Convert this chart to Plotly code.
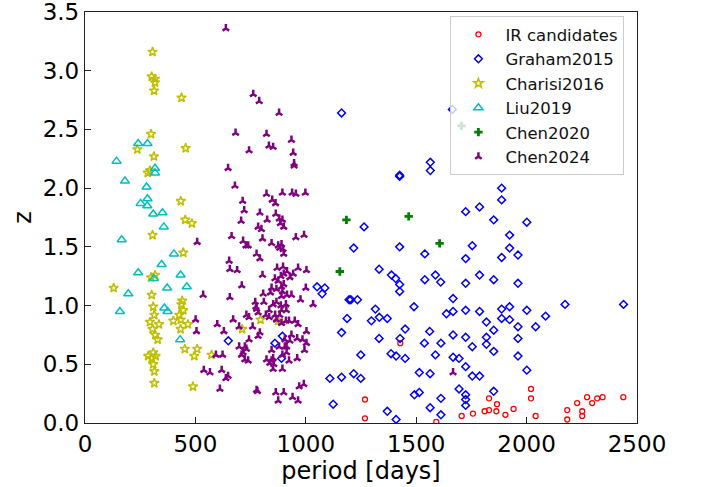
import plotly.graph_objects as go

# ---------------- data ----------------
ir_period = [1428, 1268, 1268, 1591, 1706, 1757, 1810, 1830, 1830, 1866, 1863, 1904, 1941,
             2020, 2020, 2041, 2184, 2184, 2229, 2252, 2252, 2274, 2297, 2320, 2344, 2438]
ir_z = [0.68, 0.20, 0.04, 0.01, 0.06, 0.08, 0.10, 0.11, 0.21, 0.16, 0.10, 0.07, 0.12,
        0.29, 0.21, 0.06, 0.11, 0.03, 0.17, 0.10, 0.06, 0.22, 0.17, 0.21, 0.22, 0.22]

graham_period = [649, 894, 860, 890, 1162, 1051, 1086, 1074, 1196, 1187, 1162, 1109, 1162, 1124,
                 1564, 1564, 1425, 1425, 1724, 1264, 1217, 1425, 1539, 1724, 1332, 1388, 1407, 1425,
                 1539, 1587, 1611, 1724, 1425, 1204, 1234, 1667, 1490, 1637, 1667, 1724, 1315, 1297,
                 1333, 1369, 1450, 1332, 1427, 1561, 1537, 1612, 1667, 1724, 1249, 1386, 1409, 1450,
                 1587, 1667, 1694, 1724, 1514, 1563, 1217, 1249, 1694, 1724, 1724, 1724, 1492, 1514,
                 1612, 1563, 1369, 1409, 1612,
                 1887, 1887, 1787, 1851, 2001, 1923, 1754, 1923, 1961, 1887, 1787, 1851, 1961, 2174,
                 2439, 1787, 1887, 1923, 2001, 2086, 1818, 1887, 1923, 1961, 2041, 1851, 1818, 1818,
                 1961, 1754, 1851, 1961, 2001, 1754, 1787, 1851, 1664]
graham_z = [0.70, 0.74, 0.68, 0.55, 2.64, 1.16, 1.15, 1.10, 1.05, 0.89, 0.77, 0.38, 0.39, 0.16,
            2.22, 2.15, 2.11, 2.10, 1.80, 1.67, 1.49, 1.50, 1.44, 1.40, 1.31, 1.26, 1.23, 1.18,
            1.22, 1.26, 1.20, 1.19, 1.12, 1.05, 1.05, 1.06, 0.99, 0.93, 0.95, 0.96, 0.97, 0.87,
            0.90, 0.89, 0.80, 0.72, 0.72, 0.78, 0.68, 0.68, 0.75, 0.73, 0.58, 0.59, 0.57, 0.55,
            0.58, 0.56, 0.55, 0.48, 0.43, 0.42, 0.42, 0.38, 0.29, 0.24, 0.20, 0.15, 0.24, 0.26,
            0.21, 0.13, 0.10, 0.03, 0.07,
            2.00, 1.90, 1.84, 1.73, 1.71, 1.60, 1.51, 1.49, 1.43, 1.41, 1.26, 1.22, 1.19, 1.01,
            1.01, 0.95, 0.97, 0.99, 0.96, 0.91, 0.86, 0.89, 0.88, 0.82, 0.82, 0.79, 0.73, 0.67,
            0.72, 0.65, 0.61, 0.57, 0.45, 0.40, 0.40, 0.27, 2.67]

charisi_period = [306, 302, 317, 317, 313, 437, 299, 237, 456, 312, 284, 294, 434, 454, 484,
                  306, 445, 299, 317, 130, 302, 309, 440, 436, 445, 427, 434,
                  314, 294, 335, 400, 466, 306, 433, 318, 329, 452, 508, 495, 573,
                  309, 286, 320, 302, 309, 314, 314, 489, 795, 712, 875]
charisi_z = [3.16, 2.95, 2.93, 2.90, 2.83, 2.77, 2.46, 2.33, 2.34, 2.27, 2.13, 2.15, 1.89, 1.73, 1.70,
             1.60, 1.45, 1.24, 1.26, 1.15, 1.09, 0.99, 1.04, 1.01, 0.96, 0.92, 0.88,
             0.92, 0.86, 0.84, 0.87, 0.84, 0.80, 0.80, 0.75, 0.71, 0.63, 0.63, 0.57, 0.58,
             0.60, 0.57, 0.57, 0.55, 0.50, 0.44, 0.34, 0.31, 0.88, 0.80, 0.87]

liu_period = [241, 283, 143, 317, 317, 181, 279, 283, 252, 282, 309, 351, 357, 166, 403, 347,
              241, 312, 433, 196, 372, 461, 158, 359, 374, 431]
liu_z = [2.38, 2.38, 2.23, 2.17, 2.13, 2.06, 2.01, 1.91, 1.87, 1.85, 1.78, 1.79, 1.67, 1.56, 1.44, 1.35,
         1.28, 1.23, 1.26, 1.10, 1.15, 1.16, 0.95, 0.98, 0.95, 0.71]

chen2020_period = [1184, 1466, 1606, 1154, 1705]
chen2020_z = [1.73, 1.76, 1.53, 1.29, 2.53]

chen2024_period = [638, 762, 789, 879, 682, 822, 935, 743, 833, 852, 943, 947, 947, 648, 679, 822,
                   894, 938, 955, 998, 714, 848, 863, 721, 792, 864, 707, 825, 880, 894, 885,
                   784, 799, 900, 664, 804, 716, 729, 739, 845, 955, 992, 875, 890, 882, 897, 900,
                   777, 792, 653, 656, 689, 804, 870, 897, 915, 900, 887, 965, 943, 1003, 860, 875,
                   928, 710, 845, 867, 890, 900, 1000, 840, 894, 890, 915, 807, 935, 656, 771, 774,
                   810, 852, 867, 976, 887, 910, 890, 912, 777, 784, 834, 731, 743, 671, 819, 834,
                   861, 882, 867, 890, 910, 924, 950, 965, 599, 629, 698, 759, 1003, 792, 784, 935,
                   961, 905, 928, 913, 985, 1003, 743, 698, 724, 879, 905, 845, 731, 716, 709, 593,
                   623, 913, 894, 994, 961, 822, 845, 852, 724, 739, 924, 837, 855, 852, 894, 619,
                   566, 648, 638, 970, 991, 611, 777, 781, 864, 900, 875, 940, 965,
                   508, 535, 501, 505, 538, 1033, 1667]
chen2024_z = [3.36, 2.80, 2.74, 2.64, 2.47, 2.46, 2.41, 2.32, 2.36, 2.35, 2.30, 2.21, 2.19, 2.17, 2.02, 1.95,
              1.96, 1.96, 1.95, 1.96, 1.89, 1.90, 1.87, 1.81, 1.79, 1.78, 1.72, 1.73, 1.74, 1.73, 1.70,
              1.67, 1.65, 1.67, 1.59, 1.57, 1.55, 1.51, 1.51, 1.53, 1.58, 1.60, 1.51, 1.52, 1.49, 1.48, 1.44,
              1.44, 1.40, 1.38, 1.31, 1.30, 1.26, 1.32, 1.33, 1.29, 1.27, 1.25, 1.32, 1.27, 1.30, 1.23, 1.21,
              1.24, 1.17, 1.15, 1.14, 1.16, 1.18, 1.15, 1.11, 1.12, 1.08, 1.09, 1.10, 1.09, 1.07, 1.03, 0.99,
              1.03, 1.01, 1.03, 1.05, 1.00, 1.01, 0.96, 0.96, 0.97, 0.94, 0.96, 0.92, 0.90, 0.88, 0.92, 0.90,
              0.92, 0.92, 0.88, 0.85, 0.87, 0.87, 0.87, 0.84, 0.84, 0.78, 0.82, 0.82, 0.78, 0.77, 0.74, 0.75,
              0.72, 0.71, 0.70, 0.65, 0.71, 0.68, 0.71, 0.65, 0.65, 0.65, 0.65, 0.62, 0.63, 0.60, 0.58, 0.58,
              0.58, 0.60, 0.58, 0.62, 0.55, 0.54, 0.53, 0.55, 0.54, 0.53, 0.53, 0.51, 0.50, 0.46, 0.46, 0.45,
              0.43, 0.40, 0.38, 0.31, 0.33, 0.29, 0.28, 0.27, 0.26, 0.26, 0.19, 0.22, 0.19,
              1.54, 1.09, 0.88, 0.78, 0.45, 1.01, 0.43]

x_ticks = [0, 500, 1000, 1500, 2000, 2500]
y_ticks = [0.0, 0.5, 1.0, 1.5, 2.0, 2.5, 3.0, 3.5]

# ---------------- figure ----------------
FONT = "DejaVu Sans"
fig = go.Figure()

def add(xs, ys, name, symbol, color, size, lw):
    marker = dict(symbol=symbol, size=size, color=color, line=dict(color=color, width=lw))
    fig.add_trace(go.Scatter(x=xs, y=ys, mode="markers", name=name, marker=marker))

add(ir_period, ir_z, "IR candidates", "circle-open", "#ff0000", 5, 1.3)
add(graham_period, graham_z, "Graham2015", "diamond-open", "#0000ff", 6, 1.5)
add(charisi_period, charisi_z, "Charisi2016", "star-open", "#bfbf00", 7, 1.5)
add(liu_period, liu_z, "Liu2019", "triangle-up-open", "#00bfbf", 8, 1.5)
add(chen2020_period, chen2020_z, "Chen2020", "cross", "#008000", 7, 0)
add(chen2024_period, chen2024_z, "Chen2024", "y-up", "#800080", 5.5, 2.5)

axis_common = dict(
    showgrid=False, zeroline=False, showline=True, linecolor="#222222", linewidth=1.3,
    mirror=True, ticks="inside", ticklen=6, tickwidth=1, tickcolor="#222222",
    tickfont=dict(family=FONT, size=23, color="black"), automargin=False,
    ticklabeloverflow="allow",
)
fig.update_xaxes(range=[0, 2500], tickvals=x_ticks, ticktext=[str(v) for v in x_ticks],
                 title=dict(text="period [days]", font=dict(family=FONT, size=24, color="black"), standoff=2),
                 **axis_common)
fig.update_yaxes(range=[0, 3.5], tickvals=y_ticks, ticktext=[f"{v:.1f}" for v in y_ticks],
                 title=dict(text="z", font=dict(family=FONT, size=24, color="black"), standoff=4),
                 **axis_common)

fig.update_layout(
    width=702, height=487,
    margin=dict(l=85, r=65, t=12, b=64),
    paper_bgcolor="white", plot_bgcolor="white",
    font=dict(family=FONT, color="black"),
    showlegend=True,
    legend=dict(x=0.662, y=0.99, xanchor="left", yanchor="top",
                bgcolor="rgba(255,255,255,0.8)", bordercolor="#cccccc", borderwidth=1,
                font=dict(family=FONT, size=16.5, color="#111111"), itemsizing="trace",
                itemwidth=44),
)

fig.write_html("out.html")
